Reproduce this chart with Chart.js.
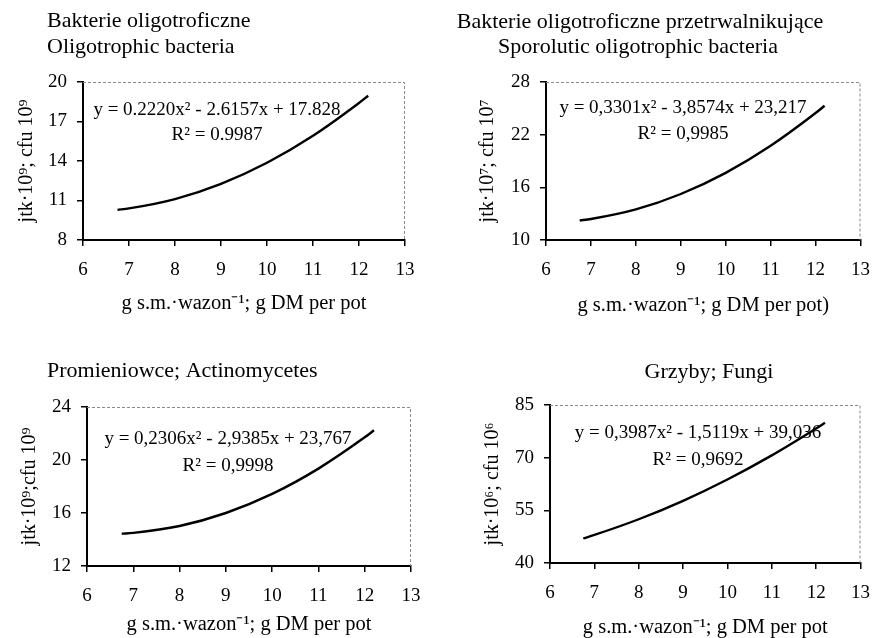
<!DOCTYPE html>
<html>
<head>
<meta charset="utf-8">
<script src="https://cdn.jsdelivr.net/npm/chart.js@4.4.1/dist/chart.umd.min.js"></script>
<style>
  html, body { margin: 0; padding: 0; background: #fff; }
  body { width: 883px; height: 638px; position: relative; overflow: hidden; }
  canvas { position: absolute; }
</style>
</head>
<body>
<canvas id="c1" width="440" height="320" style="left:0;top:0"></canvas>
<canvas id="c2" width="443" height="320" style="left:440px;top:0"></canvas>
<canvas id="c3" width="440" height="318" style="left:0;top:320px"></canvas>
<canvas id="c4" width="443" height="318" style="left:440px;top:320px"></canvas>
<script>
// dry matter per pot (x)
const xDM = [6.75, 7, 8, 9, 10, 11, 12, 12.2];
const xTicks = [6, 7, 8, 9, 10, 11, 12, 13];

const oligo = [10.29, 10.40, 11.11, 12.27, 13.87, 15.92, 18.41, 18.96];
const sporo = [12.22, 12.39, 13.48, 15.24, 17.65, 20.73, 24.46, 25.29];
const actino = [14.44, 14.50, 15.02, 16.00, 17.44, 19.35, 21.71, 22.24];
const fungi = [47.00, 47.99, 52.46, 57.72, 63.79, 70.65, 78.31, 79.93];

const oligoTicks = [8, 11, 14, 17, 20];
const sporoTicks = [10, 16, 22, 28];
const actinoTicks = [12, 16, 20, 24];
const fungiTicks = [40, 55, 70, 85];

const FONT = 'Liberation Serif, Times New Roman, serif';

const textPlugin = {
    id: 'panelText',
    afterDraw(chart) {
        const o = chart.options.plugins.panelText;
        const ctx = chart.ctx;
        const a = chart.chartArea;
        ctx.save();
        // faint plot-area frame (top + right)
        ctx.strokeStyle = '#8a8a8a';
        ctx.lineWidth = 1;
        ctx.setLineDash([3, 2]);
        ctx.beginPath();
        ctx.moveTo(a.left, a.top + 0.5);
        ctx.lineTo(a.right - 0.5, a.top + 0.5);
        ctx.lineTo(a.right - 0.5, a.bottom);
        ctx.stroke();
        ctx.setLineDash([]);
        ctx.fillStyle = '#000';
        ctx.textBaseline = 'alphabetic';
        ctx.font = o.titleSize + 'px ' + FONT;
        o.titles.forEach(t => {
            ctx.textAlign = t.align;
            ctx.fillText(t.text, t.x, t.y);
        });
        ctx.font = o.eqSize + 'px ' + FONT;
        ctx.textAlign = 'center';
        o.eq.forEach(t => {
            ctx.fillText(t.text, a.left + o.eqX, a.top + t.y);
        });
        ctx.restore();
    }
};

function makePanel(id, values, yTicks, cfg) {
    const ctx = document.getElementById(id).getContext('2d');
    return new Chart(ctx, {
        type: 'line',
        data: {
            datasets: [{
                data: xDM.map((x, i) => ({ x: x, y: values[i] })),
                borderColor: '#000',
                borderWidth: 2.4,
                pointRadius: 0,
                cubicInterpolationMode: 'monotone',
                fill: false
            }]
        },
        options: {
            responsive: false,
            animation: false,
            layout: { padding: { top: cfg.top, right: cfg.right, left: 0, bottom: 0 } },
            plugins: {
                legend: { display: false },
                tooltip: { enabled: false },
                panelText: {
                    titles: cfg.titles,
                    titleSize: 22,
                    eq: cfg.eq,
                    eqX: cfg.eqX,
                    eqSize: 19
                }
            },
            scales: {
                x: {
                    type: 'linear',
                    min: xTicks[0],
                    max: xTicks[xTicks.length - 1],
                    afterBuildTicks: s => { s.ticks = xTicks.map(v => ({ value: v })); },
                    afterFit: s => { s.height = cfg.xH; },
                    grid: { drawOnChartArea: false, color: '#000', lineWidth: 1.5, tickLength: 6 },
                    border: { color: '#000', width: 2 },
                    ticks: { color: '#000', padding: 13, font: { family: FONT, size: 19 }, maxRotation: 0 },
                    title: {
                        display: true,
                        text: cfg.xTitle,
                        color: '#000',
                        font: { family: FONT, size: 20.5, lineHeight: 1 },
                        padding: { top: 0, bottom: cfg.xTitlePad }
                    }
                },
                y: {
                    type: 'linear',
                    min: yTicks[0],
                    max: yTicks[yTicks.length - 1],
                    afterBuildTicks: s => { s.ticks = yTicks.map(v => ({ value: v })); },
                    afterFit: s => { s.width = cfg.yW; },
                    grid: { drawOnChartArea: false, color: '#000', lineWidth: 1.5, tickLength: 6 },
                    border: { color: '#000', width: 2 },
                    ticks: { color: '#000', padding: 10, font: { family: FONT, size: 19 } },
                    title: {
                        display: true,
                        text: cfg.yTitle,
                        color: '#000',
                        font: { family: FONT, size: 20, lineHeight: 1 },
                        padding: { top: cfg.yTitlePad, bottom: 0 }
                    }
                }
            }
        },
        plugins: [textPlugin]
    });
}

makePanel('c1', oligo, oligoTicks, {
    top: 82, right: 35, yW: 83, xH: 80, xTitlePad: 6, yTitlePad: 17,
    yTitle: 'jtk·10⁹; cfu 10⁹',
    xTitle: 'g s.m.·wazon⁻¹; g DM per pot',
    titles: [
        { text: 'Bakterie oligotroficzne', x: 47, y: 27, align: 'left' },
        { text: 'Oligotrophic bacteria', x: 47, y: 53, align: 'left' }
    ],
    eqX: 134,
    eq: [
        { text: 'y = 0.2220x² - 2.6157x + 17.828', y: 33 },
        { text: 'R² = 0.9987', y: 58 }
    ]
});

makePanel('c2', sporo, sporoTicks, {
    top: 82, right: 16, yW: 106, xH: 80, xTitlePad: 4, yTitlePad: 38,
    yTitle: 'jtk·10⁷; cfu 10⁷',
    xTitle: 'g s.m.·wazon⁻¹; g DM per pot)',
    titles: [
        { text: 'Bakterie oligotroficzne przetrwalnikujące', x: 200, y: 28, align: 'center' },
        { text: 'Sporolutic oligotrophic bacteria', x: 198, y: 53, align: 'center' }
    ],
    eqX: 137,
    eq: [
        { text: 'y = 0,3301x² - 3,8574x + 23,217', y: 31 },
        { text: 'R² = 0,9985', y: 57 }
    ]
});

makePanel('c3', actino, actinoTicks, {
    top: 87, right: 29, yW: 87, xH: 72, xTitlePad: 3, yTitlePad: 20,
    yTitle: 'jtk·10⁹;cfu 10⁹',
    xTitle: 'g s.m.·wazon⁻¹; g DM per pot',
    titles: [
        { text: 'Promieniowce; Actinomycetes', x: 47, y: 57, align: 'left' }
    ],
    eqX: 141,
    eq: [
        { text: 'y = 0,2306x² - 2,9385x + 23,767', y: 37 },
        { text: 'R² = 0,9998', y: 64 }
    ]
});

makePanel('c4', fungi, fungiTicks, {
    top: 85, right: 12, yW: 110, xH: 75, xTitlePad: 0, yTitlePad: 43,
    yTitle: 'jtk·10⁶; cfu 10⁶',
    xTitle: 'g s.m.·wazon⁻¹; g DM per pot',
    titles: [
        { text: 'Grzyby; Fungi', x: 269, y: 58, align: 'center' }
    ],
    eqX: 148,
    eq: [
        { text: 'y = 0,3987x² - 1,5119x + 39,036', y: 33 },
        { text: 'R² = 0,9692', y: 60 }
    ]
});
</script>
</body>
</html>
